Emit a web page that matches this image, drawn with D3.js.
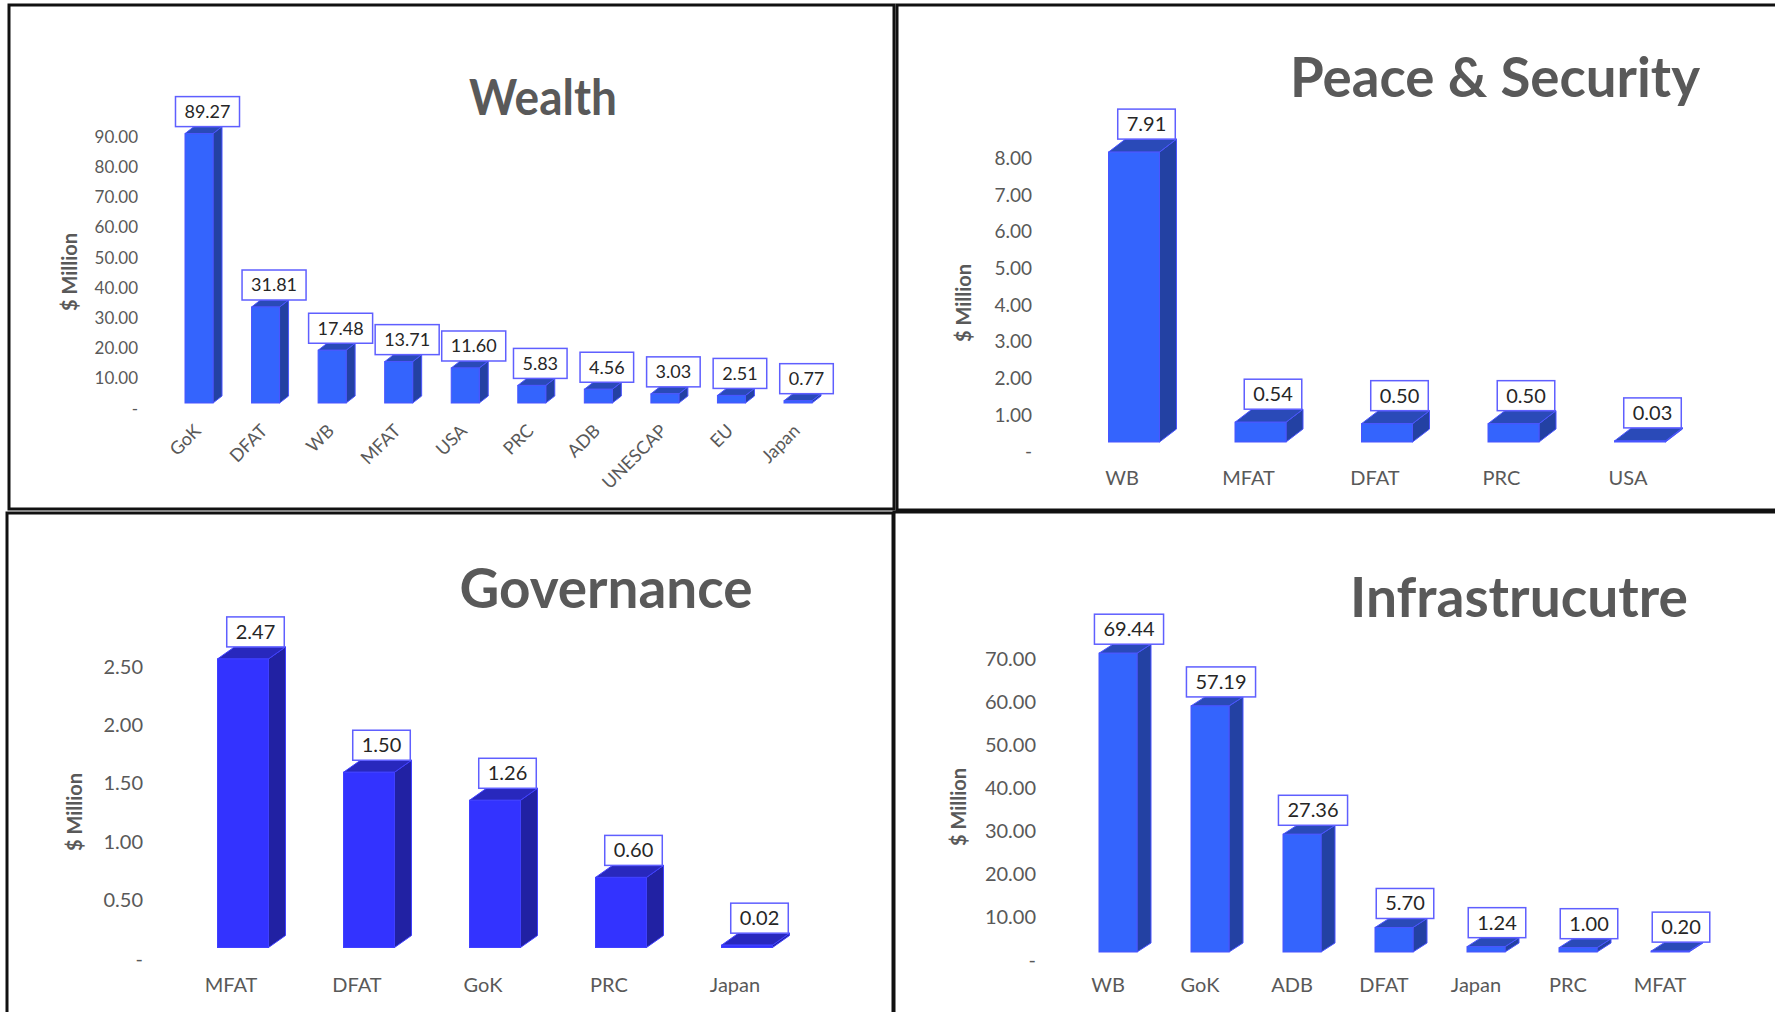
<!DOCTYPE html>
<html>
<head>
<meta charset="utf-8">
<script src="https://cdn.jsdelivr.net/npm/d3@7"></script>
<style>
  body { margin: 0; background: #fff; }
  svg { display: block; font-family: Lato, "Open Sans", sans-serif; }
</style>
</head>
<body>
<div id="chart"></div>
<script>
// data
var wealthDonors = ["GoK", "DFAT", "WB", "MFAT", "USA", "PRC", "ADB", "UNESCAP", "EU", "Japan"];
var wealthValues = [89.27, 31.81, 17.48, 13.71, 11.60, 5.83, 4.56, 3.03, 2.51, 0.77];
var wealthTicks = [0, 10, 20, 30, 40, 50, 60, 70, 80, 90];

var peaceDonors = ["WB", "MFAT", "DFAT", "PRC", "USA"];
var peaceValues = [7.91, 0.54, 0.50, 0.50, 0.03];
var peaceTicks = [0, 1, 2, 3, 4, 5, 6, 7, 8];

var govDonors = ["MFAT", "DFAT", "GoK", "PRC", "Japan"];
var govValues = [2.47, 1.50, 1.26, 0.60, 0.02];
var govTicks = [0, 0.5, 1, 1.5, 2, 2.5];

var infraDonors = ["WB", "GoK", "ADB", "DFAT", "Japan", "PRC", "MFAT"];
var infraValues = [69.44, 57.19, 27.36, 5.70, 1.24, 1.00, 0.20];
var infraTicks = [0, 10, 20, 30, 40, 50, 60, 70];

var W = 1775, H = 1012;
var grey = "#595959";
var fmt = d3.format(".2f");

var svg = d3.select("#chart").append("svg")
    .attr("width", W)
    .attr("height", H);

// panel frames
svg.append("rect").attr("x", 9).attr("y", 5).attr("width", 885).attr("height", 504)
    .attr("fill", "none").attr("stroke", "#111").attr("stroke-width", 3);
svg.append("rect").attr("x", 897).attr("y", 5).attr("width", 890).attr("height", 505)
    .attr("fill", "none").attr("stroke", "#111").attr("stroke-width", 3);
svg.append("rect").attr("x", 7).attr("y", 513).attr("width", 886).attr("height", 510)
    .attr("fill", "none").attr("stroke", "#111").attr("stroke-width", 3);
svg.append("rect").attr("x", 894).attr("y", 512).attr("width", 890).attr("height", 510)
    .attr("fill", "none").attr("stroke", "#111").attr("stroke-width", 3);

function panel(cfg) {
  var g = svg.append("g");

  // axis scale (labels) and bars sit slightly higher (3d floor)
  var tmax = cfg.ticks[cfg.ticks.length - 1];
  var y = d3.scaleLinear().domain([0, tmax]).range([cfg.axisZero, cfg.axisTop]);
  var yb = function(v) { return y(v) - cfg.barShift; };
  var x = d3.scalePoint().domain(cfg.donors).range([cfg.firstX, cfg.lastX]);

  var axis = d3.axisLeft(y)
      .tickValues(cfg.ticks)
      .tickSize(0)
      .tickPadding(0)
      .tickFormat(function(d) { return d === 0 ? "-" : fmt(d); });

  var ax = g.append("g")
      .attr("transform", "translate(" + cfg.tickX + ",0)")
      .call(axis);
  ax.select(".domain").remove();
  ax.selectAll("text")
      .attr("fill", grey)
      .style("font-family", "Lato, 'Open Sans', sans-serif")
      .style("font-size", cfg.tickSize + "px");

  // title
  g.append("text")
      .attr("x", cfg.titleX)
      .attr("y", cfg.titleY)
      .attr("text-anchor", "middle")
      .attr("fill", grey)
      .attr("font-weight", "bold")
      .attr("font-size", cfg.titleSize)
      .attr("textLength", cfg.titleLen)
      .attr("lengthAdjust", "spacingAndGlyphs")
      .text(cfg.title);

  // y axis title
  g.append("text")
      .attr("transform", "translate(" + cfg.ytX + "," + cfg.ytY + ") rotate(-90)")
      .attr("text-anchor", "middle")
      .attr("dy", "0.35em")
      .attr("fill", grey)
      .attr("font-weight", "bold")
      .attr("font-size", 20)
      .text("$ Million");

  var data = cfg.donors.map(function(d, i) { return {name: d, value: cfg.values[i]}; });
  var bw = cfg.barW, dx = cfg.dx, dy = cfg.dy;

  var bars = g.selectAll(".bar").data(data).enter().append("g").attr("class", "bar");

  // side face
  bars.append("path")
      .attr("fill", cfg.side)
      .attr("stroke", cfg.edge)
      .attr("stroke-width", 1)
      .attr("d", function(d) {
        var x1 = x(d.name) + bw / 2, t = yb(d.value), b = yb(0);
        return "M" + x1 + "," + t + "L" + (x1 + dx) + "," + (t - dy) +
               "L" + (x1 + dx) + "," + (b - dy) + "L" + x1 + "," + b + "Z";
      });
  // top face
  bars.append("path")
      .attr("fill", cfg.top)
      .attr("stroke", cfg.edge)
      .attr("stroke-width", 1)
      .attr("d", function(d) {
        var x0 = x(d.name) - bw / 2, x1 = x0 + bw, t = yb(d.value);
        return "M" + x0 + "," + t + "L" + (x0 + dx) + "," + (t - dy) +
               "L" + (x1 + dx) + "," + (t - dy) + "L" + x1 + "," + t + "Z";
      });
  // front face
  bars.append("rect")
      .attr("x", function(d) { return x(d.name) - bw / 2; })
      .attr("y", function(d) { return yb(d.value); })
      .attr("width", bw)
      .attr("height", function(d) { return yb(0) - yb(d.value); })
      .attr("fill", cfg.front)
      .attr("stroke", cfg.edge)
      .attr("stroke-width", 1);

  // value boxes
  bars.each(function(d) {
    var b = d3.select(this);
    var cx = x(d.name) + dx / 2 + 4;
    var bottom = yb(d.value) - dy;
    var t = b.append("text")
        .attr("x", cx)
        .attr("y", bottom - 15)
        .attr("dy", "0.35em")
        .attr("text-anchor", "middle")
        .attr("fill", "#262626")
        .attr("font-size", cfg.valSize)
        .text(fmt(d.value));
    var tw = t.node().getComputedTextLength();
    b.insert("rect", "text")
        .attr("x", cx - tw / 2 - 9)
        .attr("y", bottom - 30)
        .attr("width", tw + 18)
        .attr("height", 30)
        .attr("fill", "#fff")
        .attr("stroke", "#5f5fff")
        .attr("stroke-width", 1.5);
  });

  // category labels
  var labs = g.selectAll(".cat").data(data).enter().append("text")
      .attr("class", "cat")
      .attr("fill", grey)
      .attr("font-size", cfg.catSize)
      .text(function(d) { return d.name; });
  if (cfg.rotate) {
    labs.attr("text-anchor", "end")
        .attr("transform", function(d) {
          return "translate(" + (x(d.name) + 3) + "," + cfg.catY + ") rotate(-45)";
        });
  } else {
    labs.attr("text-anchor", "middle")
        .attr("x", function(d) { return x(d.name) + cfg.catOff; })
        .attr("y", cfg.catY)
        .attr("dy", "0.35em");
  }
}

panel({
  donors: wealthDonors, values: wealthValues, ticks: wealthTicks,
  title: "Wealth", titleX: 543, titleY: 115, titleSize: 50, titleLen: 148,
  axisZero: 408.6, axisTop: 137, barShift: 5.6,
  firstX: 199, lastX: 798, barW: 28, dx: 9, dy: 7,
  tickX: 138, tickSize: 17, ytX: 70, ytY: 272,
  valSize: 18, catSize: 18, catY: 432, rotate: true,
  front: "#3464fd", side: "#2341a3", top: "#2a4ab8", edge: "#4a55ff"
});

panel({
  donors: peaceDonors, values: peaceValues, ticks: peaceTicks,
  title: "Peace & Security", titleX: 1495, titleY: 97, titleSize: 56, titleLen: 410,
  axisZero: 451.7, axisTop: 158.5, barShift: 9.7,
  firstX: 1134, lastX: 1640, barW: 51, dx: 17, dy: 13,
  tickX: 1032, tickSize: 19, ytX: 964, ytY: 303,
  valSize: 20, catSize: 20, catY: 478, catOff: -12, rotate: false,
  front: "#3464fd", side: "#2341a3", top: "#2a4ab8", edge: "#4a55ff"
});

panel({
  donors: govDonors, values: govValues, ticks: govTicks,
  title: "Governance", titleX: 606, titleY: 608, titleSize: 56, titleLen: 293,
  axisZero: 958.8, axisTop: 666.7, barShift: 11.3,
  firstX: 243, lastX: 747, barW: 51, dx: 17, dy: 12,
  tickX: 143, tickSize: 20, ytX: 75, ytY: 812,
  valSize: 20, catSize: 20, catY: 985, catOff: -12, rotate: false,
  front: "#3333ff", side: "#2121a3", top: "#2828bd", edge: "#4040ff"
});

panel({
  donors: infraDonors, values: infraValues, ticks: infraTicks,
  title: "Infrastrucutre", titleX: 1519, titleY: 617, titleSize: 56, titleLen: 338,
  axisZero: 960, axisTop: 658.8, barShift: 8,
  firstX: 1118, lastX: 1670, barW: 38, dx: 14, dy: 9,
  tickX: 1036, tickSize: 20, ytX: 959, ytY: 807,
  valSize: 20, catSize: 20, catY: 985, catOff: -10, rotate: false,
  front: "#3464fd", side: "#2341a3", top: "#2a4ab8", edge: "#4a55ff"
});
</script>
</body>
</html>
